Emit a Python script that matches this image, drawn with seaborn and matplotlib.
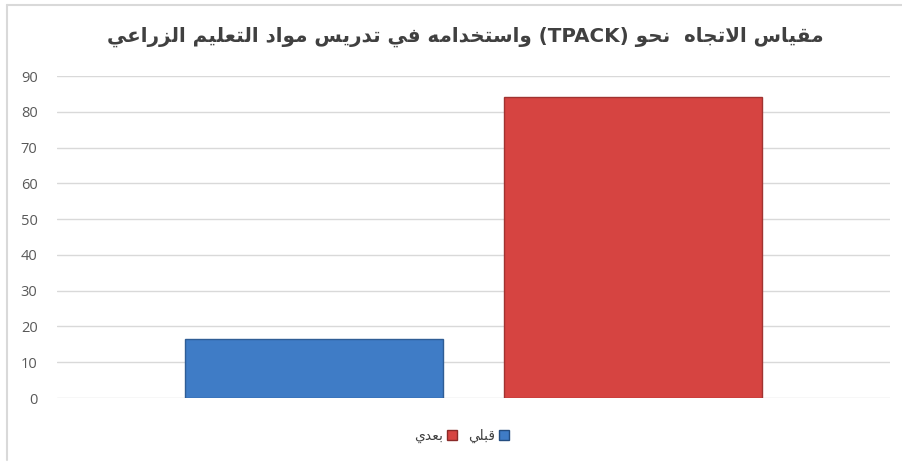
import re
import numpy as np
import pandas as pd
import matplotlib
matplotlib.use("Agg")
import matplotlib.pyplot as plt
import seaborn as sns
from matplotlib.lines import Line2D

# ---------------- data ----------------
title_text = "مقياس الاتجاه  نحو (TPACK) واستخدامه في تدريس مواد التعليم الزراعي"
series_names = ["قبلي", "بعدي"]
series_values = [16.4, 84.2]
series_colors = ["#3F7CC6", "#D64441"]
y_ticks = [0, 10, 20, 30, 40, 50, 60, 70, 80, 90]

# ---------------- minimal Arabic shaping + bidi ----------------
FORMS = {
    'ا': ('\uFE8D', '\uFE8E', None, None),
    'ب': ('\uFE8F', '\uFE90', '\uFE91', '\uFE92'),
    'ت': ('\uFE95', '\uFE96', '\uFE97', '\uFE98'),
    'ج': ('\uFE9D', '\uFE9E', '\uFE9F', '\uFEA0'),
    'ح': ('\uFEA1', '\uFEA2', '\uFEA3', '\uFEA4'),
    'خ': ('\uFEA5', '\uFEA6', '\uFEA7', '\uFEA8'),
    'د': ('\uFEA9', '\uFEAA', None, None),
    'ر': ('\uFEAD', '\uFEAE', None, None),
    'ز': ('\uFEAF', '\uFEB0', None, None),
    'س': ('\uFEB1', '\uFEB2', '\uFEB3', '\uFEB4'),
    'ع': ('\uFEC9', '\uFECA', '\uFECB', '\uFECC'),
    'ف': ('\uFED1', '\uFED2', '\uFED3', '\uFED4'),
    'ق': ('\uFED5', '\uFED6', '\uFED7', '\uFED8'),
    'ل': ('\uFEDD', '\uFEDE', '\uFEDF', '\uFEE0'),
    'م': ('\uFEE1', '\uFEE2', '\uFEE3', '\uFEE4'),
    'ن': ('\uFEE5', '\uFEE6', '\uFEE7', '\uFEE8'),
    'ه': ('\uFEE9', '\uFEEA', '\uFEEB', '\uFEEC'),
    'و': ('\uFEED', '\uFEEE', None, None),
    'ي': ('\uFEF1', '\uFEF2', '\uFEF3', '\uFEF4'),
}


def shape(text):
    tokens = []
    i = 0
    while i < len(text):
        if text[i] == 'ل' and i + 1 < len(text) and text[i + 1] == 'ا':
            tokens.append('LA')
            i += 2
        else:
            tokens.append(text[i])
            i += 1

    def dual(t):
        return t in FORMS and FORMS[t][2] is not None

    def arabic(t):
        return t == 'LA' or t in FORMS

    out = []
    for k, t in enumerate(tokens):
        if not arabic(t):
            out.append(t)
            continue
        prev = tokens[k - 1] if k > 0 else None
        nxt = tokens[k + 1] if k + 1 < len(tokens) else None
        jp = prev is not None and dual(prev)
        jn = dual(t) and nxt is not None and arabic(nxt)
        if t == 'LA':
            out.append('\uFEFC' if jp else '\uFEFB')
            continue
        iso, fin, ini, med = FORMS[t]
        if jp and jn:
            out.append(med)
        elif jp:
            out.append(fin)
        elif jn:
            out.append(ini)
        else:
            out.append(iso)
    return ''.join(out)


def visual(text):
    s = shape(text)[::-1]
    s = re.sub(r'[A-Za-z0-9]+', lambda m: m.group(0)[::-1], s)
    return s.translate(str.maketrans({'(': ')', ')': '('}))


# ---------------- figure ----------------
sns.set_theme(style="white")
plt.rcParams['font.family'] = ['DejaVu Sans']

W, H = 903, 462
fig = plt.figure(figsize=(W / 100, H / 100), dpi=100)
ax = fig.add_axes([57 / W, 1 - 398 / H, (890 - 57) / W, (398 - 76) / H])

labels_vis = [visual(n) for n in series_names]
df = pd.DataFrame({
    "group": [""] * len(series_names),
    "period": labels_vis,
    "value": series_values,
})

sns.barplot(data=df, x="group", y="value", hue="period",
            hue_order=labels_vis, palette=series_colors,
            width=0.764, gap=0.189, ax=ax, legend=False,
            linewidth=0.0, saturation=1)

# subtle bevel look
for p in ax.patches:
    fc = p.get_facecolor()
    darker = tuple(c * 0.75 for c in fc[:3])
    p.set_edgecolor(darker)
    p.set_linewidth(1.0)

ax.set_xlim(-0.5, 0.5)
ax.set_ylim(0, 90)
ax.set_yticks(y_ticks)
ax.set_yticklabels([str(t) for t in y_ticks], fontsize=10.5, color="#595959",
                   family=["Open Sans", "DejaVu Sans"])
ax.tick_params(axis="y", length=0, pad=14)
ax.set_xticks([])
ax.set_xlabel("")
ax.set_ylabel("")
for s in ax.spines.values():
    s.set_visible(False)
ax.yaxis.grid(True, color="#D9D9D9", linewidth=1.0)
ax.set_axisbelow(True)

# title
fig.text(465 / W, 1 - 37 / H, visual(title_text), ha="center", va="center",
         fontsize=14.3, fontweight="bold", color="#404040",
         family=["DejaVu Sans"])

# legend: left-to-right: بعدي (red), قبلي (blue), marker after text
handles = [
    Line2D([0], [0], marker="s", linestyle="none", markersize=7,
           markerfacecolor=series_colors[1], markeredgecolor="#8a2a28"),
    Line2D([0], [0], marker="s", linestyle="none", markersize=7,
           markerfacecolor=series_colors[0], markeredgecolor="#244d80"),
]
fig.legend(handles, [labels_vis[1], labels_vis[0]], loc="center",
           bbox_to_anchor=(462 / W, 1 - 436 / H), ncol=2, frameon=False,
           markerfirst=False, fontsize=10, handletextpad=0.2,
           columnspacing=0.8, handlelength=0.8,
           labelcolor="#404040")

# chart frame (left, top)
fig.add_artist(Line2D([7 / W, 7 / W], [1 - 5 / H, 1 - 460 / H],
                      transform=fig.transFigure, color="#D9D9D9", lw=1.5))
fig.add_artist(Line2D([7 / W, 902 / W], [1 - 5 / H, 1 - 5 / H],
                      transform=fig.transFigure, color="#D9D9D9", lw=1.5))

fig.savefig("out.png", dpi=100, facecolor="white")
